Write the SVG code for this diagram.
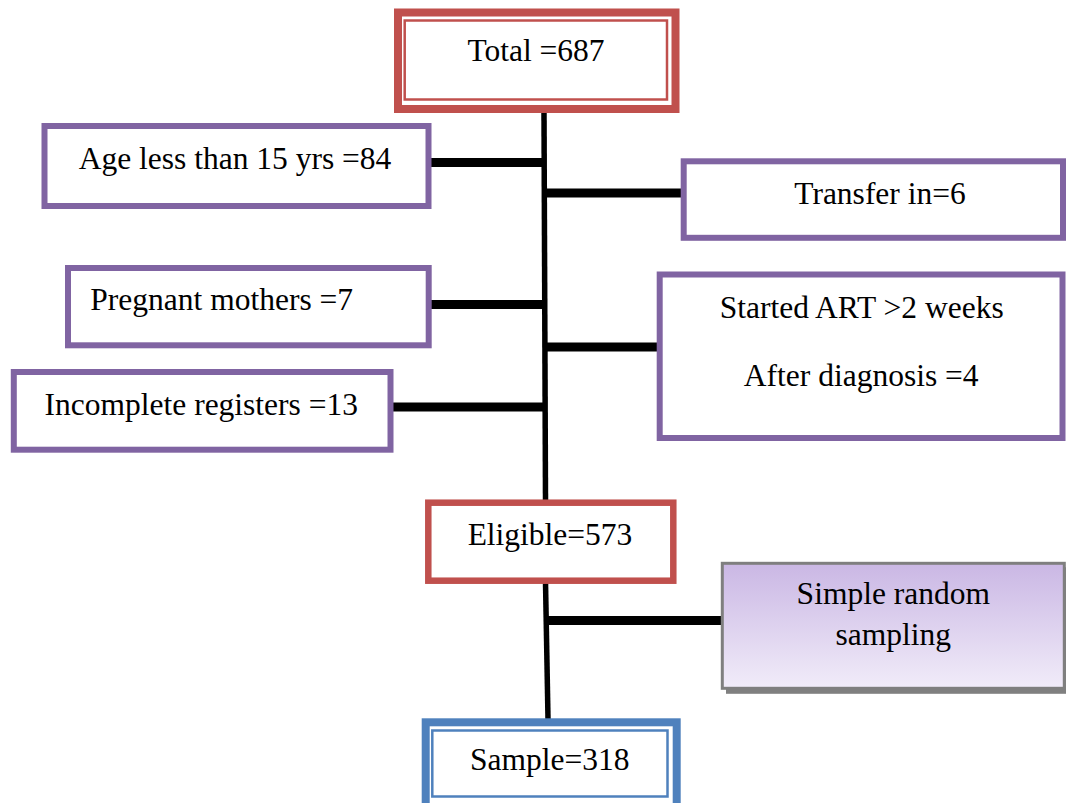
<svg xmlns="http://www.w3.org/2000/svg" width="1066" height="803" viewBox="0 0 1066 803">
<style>
  text { font-family: "Liberation Serif", "Times New Roman", serif; font-size: 31.5px; fill: #000; text-anchor: middle; }
  .purple { fill: #fff; stroke: #8064A2; stroke-width: 6; }
  .red { fill: #fff; stroke: #C0504D; stroke-width: 6.5; }
  .redthin { fill: none; stroke: #C0504D; stroke-width: 2.5; }
  .redthick { fill: #fff; stroke: #C0504D; stroke-width: 8; }
  .blue { fill: #fff; stroke: #4F81BD; stroke-width: 8; }
  .bluethin { fill: none; stroke: #4F81BD; stroke-width: 2.5; }
  .trunk { stroke: #000; stroke-width: 5.5; fill: none; }
  .branch { stroke: #000; stroke-width: 9; fill: none; }
</style>
<defs>
  <linearGradient id="srsGrad" x1="0" y1="0" x2="0" y2="1">
    <stop offset="0" stop-color="#CAB7E4"/>
    <stop offset="1" stop-color="#F1ECF9"/>
  </linearGradient>
</defs>
<rect width="1066" height="803" fill="#fff"/>

<g id="connectors">
  <line class="trunk" x1="544" y1="112" x2="545.5" y2="501"/>
  <line class="branch" x1="431" y1="162.5" x2="544" y2="162.5"/>
  <line class="branch" x1="544" y1="193" x2="681" y2="193"/>
  <line class="branch" x1="431" y1="304.5" x2="545" y2="304.5"/>
  <line class="branch" x1="545" y1="347" x2="657" y2="347"/>
  <line class="branch" x1="393" y1="407" x2="545" y2="407"/>
  <line class="trunk" x1="545.5" y1="582" x2="548" y2="719"/>
  <line class="branch" x1="546" y1="620.5" x2="721" y2="620.5"/>
</g>

<g id="total">
  <rect class="redthick" x="398" y="12.5" width="277.5" height="96.5"/>
  <rect class="redthin" x="404.7" y="20.5" width="262.3" height="79"/>
  <text x="536" y="61">Total =687</text>
</g>

<g id="age">
  <rect class="purple" x="44.5" y="126" width="384" height="80"/>
  <text x="235" y="169">Age less than 15 yrs =84</text>
</g>

<g id="transfer">
  <rect class="purple" x="683.7" y="161.3" width="379.3" height="76.5"/>
  <text x="880" y="203.5">Transfer in=6</text>
</g>

<g id="pregnant">
  <rect class="purple" x="68" y="268" width="360.7" height="77.3"/>
  <text x="221.7" y="310">Pregnant mothers =7</text>
</g>

<g id="started">
  <rect class="purple" x="659.7" y="274.5" width="402.8" height="163.5"/>
  <text x="861.7" y="317.5">Started ART &gt;2 weeks</text>
  <text x="861.2" y="386">After diagnosis =4</text>
</g>

<g id="incomplete">
  <rect class="purple" x="13.8" y="372" width="376.7" height="77.7"/>
  <text x="201.3" y="415">Incomplete registers =13</text>
</g>

<g id="eligible">
  <rect class="red" x="428.3" y="502.7" width="245" height="78"/>
  <text x="550" y="545">Eligible=573</text>
</g>

<g id="simple-random-sampling">
  <rect x="726" y="567.3" width="342" height="126.5" fill="#808080"/>
  <rect x="722.3" y="563.3" width="342" height="125" fill="url(#srsGrad)" stroke="#7F7F7F" stroke-width="3"/>
  <text x="893.3" y="603.5">Simple random</text>
  <text x="893.3" y="644.5">sampling</text>
</g>

<g id="sample">
  <rect class="blue" x="425.7" y="722.3" width="251" height="92"/>
  <rect class="bluethin" x="432.3" y="730.5" width="235.2" height="66"/>
  <text x="549.7" y="770">Sample=318</text>
</g>
</svg>
